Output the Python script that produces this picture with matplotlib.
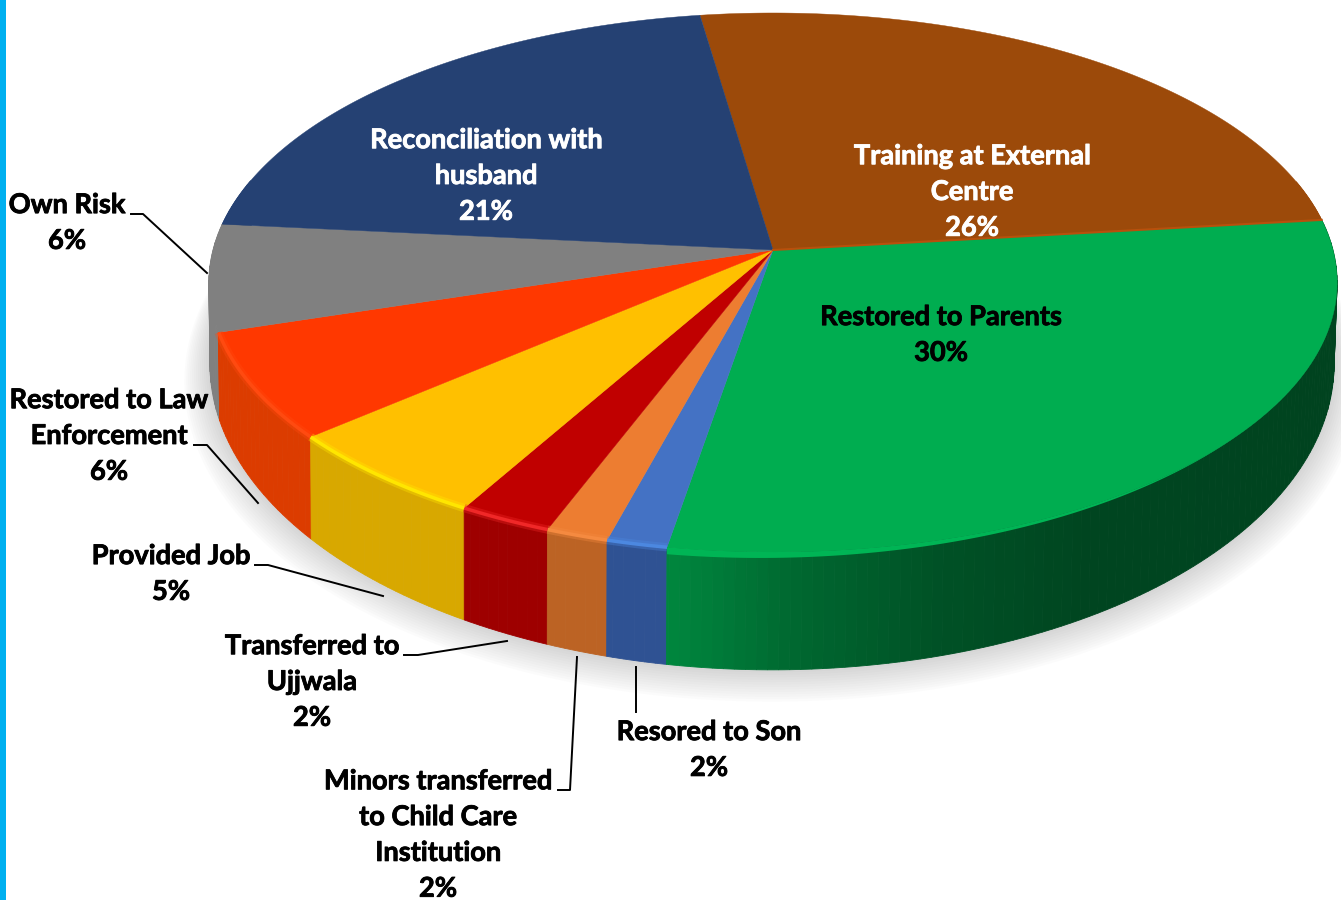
#!/usr/bin/env python

"""
outcome of cases, 3d looking pie drawn by hand since matplotlib pie is flat
"""
import numpy as np
import matplotlib
matplotlib.use("Agg")
import matplotlib.pyplot as plt
import matplotlib.patheffects as pe
from matplotlib.colors import to_rgb

# share of each slice, clockwise
categories = ["Training at External\nCentre", "Restored to Parents", "Resored to Son",
              "Minors transferred\nto Child Care\nInstitution", "Transferred to\nUjjwala",
              "Provided Job", "Restored to Law\nEnforcement", "Own Risk",
              "Reconciliation with\nhusband"]
shares = [25.5, 29.5, 1.55, 1.6, 2.4, 5.55, 6.4, 6.4, 21.1]
percent_labels = ["26%", "30%", "2%", "2%", "2%", "5%", "6%", "6%", "21%"]

# colours
top_colors = ["#9C4A0A", "#00AD50", "#4472C4", "#ED7D31", "#C00000", "#FFC000", "#FF3800", "#808080", "#254173"]
rim_colors = ["#9C4A0A", "#00B555", "#4C88E0", "#F58A40", "#F02828", "#FFE600", "#FF4A10", "#8C8C8C", "#254173"]
wall_colors = ["#9C4A0A", "#00AD50", "#2F5293", "#BC6324", "#9E0000", "#D8A800", "#DC3C00", "#808080", "#254173"]
text_colors = ["white", "black", "black", "black", "black", "black", "black", "black", "white"]

# label centres in pixels and leader lines
label_pos = [(972, 192), (941, 335), (709, 750), (438, 835), (312, 682),
             (171, 574), (109, 436), (67, 223), (486, 176)]
leaders = [None, None,
           [(636, 712), (636, 667)],
           [(558, 790), (570, 790), (577, 657)],
           [(404, 655), (418, 655), (507, 641)],
           [(255, 565), (268, 565), (383, 596)],
           [(194, 445), (207, 445), (258, 503)],
           [(131, 214), (143, 214), (207, 273)],
           None]

start_angle = -8.4


def project(theta, cy, a, b, k=0.1206, cx=773):
    # theta in degrees clockwise from the top of the disc
    t = np.radians(theta)
    u, v = np.sin(t), np.cos(t)
    w = 1 + k * v
    return cx + a * u / w, cy - b * v / w


def top_pts(theta):
    return project(theta, 250, 560, 265.6)


def bottom_pts(theta):
    return project(theta, 327, 558, 301.5, cx=772)


def wall_shade(theta):
    return np.interp(theta, [83, 150, 165, 178, 188, 195], [0.38, 0.40, 0.47, 0.60, 0.76, 0.82])


plt.rcParams['font.family'] = ['Lato', 'DejaVu Sans']

fig = plt.figure(figsize=(13.41, 9), dpi=100)
ax = fig.add_axes([0, 0, 1, 1])
ax.set_xlim(0, 1341)
ax.set_ylim(900, 0)
ax.axis("off")

ax.axvspan(0, 6, color="#00B0F0", lw=0)

# soft shadow under the disc
th = np.linspace(0, 360, 361)
sx, sy = bottom_pts(th)
for i in range(14):
    s = 1.0 + i * 0.0035
    ax.fill(772 + (sx - 772) * s, 370 + (sy - 370) * s + i * 1.4, color="#8a8a8a",
            alpha=0.028, lw=0, zorder=1)

edges = start_angle + np.cumsum([0] + shares) * 3.6

# side wall, back to front
quads = []
for i in range(len(shares)):
    for t0 in np.arange(edges[i], edges[i + 1], 1.0):
        t1 = min(t0 + 1.0, edges[i + 1])
        if 75 < t1 and t0 < 285:
            quads.append((abs((t0 + t1) / 2 - 180), i, t0, t1))
quads.sort(key=lambda q: -q[0])
for _, i, t0, t1 in quads:
    a = np.linspace(t0, t1, 3)
    xt, yt = top_pts(a)
    xb, yb = bottom_pts(a)
    mid = (t0 + t1) / 2
    col = np.array(to_rgb(wall_colors[i]))
    if i == 1:
        col = col * wall_shade(mid)
    ax.fill(np.r_[xt, xb[::-1]], np.r_[yt, yb[::-1]], color=col, lw=0.6, zorder=2)

# top face
for i in range(len(shares)):
    a = np.linspace(edges[i], edges[i + 1], 200)
    x, y = top_pts(a)
    ax.fill(np.r_[773, x], np.r_[250, y], color=top_colors[i], lw=0.3, zorder=3)

# green rim tapers away towards the right
a = np.linspace(130, edges[2], 80)
x, y = top_pts(a)
d = np.interp(a, [130, edges[2]], [0, 7])
ax.fill(np.r_[x, x[::-1]], np.r_[y, (y + d)[::-1]], color=rim_colors[1], lw=0, zorder=4)

# lighter rim where the top meets the wall, wide and faint then thin
for i in range(2, len(shares)):
    a = np.linspace(edges[i], edges[i + 1], 60)
    if edges[i + 1] < 256:
        x, y = top_pts(a)
        ax.plot(x, y, color=rim_colors[i], lw=6, alpha=0.35, solid_capstyle="butt", zorder=4)
        ax.plot(x, y, color=rim_colors[i], lw=2.5, solid_capstyle="butt", zorder=4)

# brown slice has a bit of orange along its lower edge
x, y = top_pts(edges[1])
ax.plot([773, x], [250, y], color="#B8500C", lw=1.5, zorder=4)

for i in range(len(categories)):
    ax.text(label_pos[i][0], label_pos[i][1], categories[i] + "\n" + percent_labels[i],
            ha="center", va="center", ma="center", fontsize=19.6, fontweight="bold",
            color=text_colors[i], linespacing=1.59, zorder=6,
            path_effects=[pe.withStroke(linewidth=0.6, foreground=text_colors[i])])
    if leaders[i] is not None:
        ax.plot([p[0] for p in leaders[i]], [p[1] for p in leaders[i]], color="black", lw=1.4, zorder=5)

fig.savefig("out.png", dpi=100, facecolor="white")
